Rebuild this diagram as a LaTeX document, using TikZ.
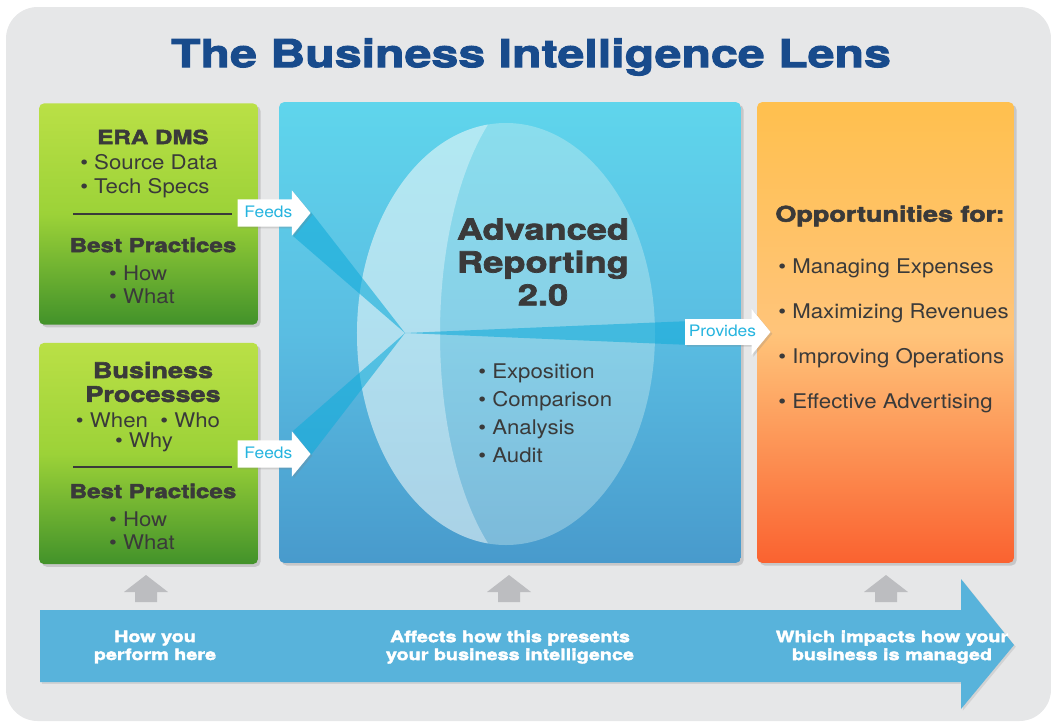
\documentclass[tikz,border=0pt]{standalone}
\usepackage{fontspec}
\setmainfont[FakeStretch=1.1]{TeX Gyre Heros}
\newfontfamily\widefont[FakeStretch=1.25, FakeBold=2.5]{TeX Gyre Heros}
\usetikzlibrary{shapes.arrows, shadows}
\definecolor{bggray}{HTML}{E6E7E8}
\definecolor{titleblue}{HTML}{184B8C}
\definecolor{textgray}{HTML}{3A3A3A}
\definecolor{feedcyan}{HTML}{25B4DF}
\definecolor{bandblue}{HTML}{58B3DB}
\definecolor{upgray}{HTML}{BCBDC0}
\definecolor{beamcyan}{HTML}{14ACDA}
\definecolor{lenslight}{HTML}{DDF3F2}

\begin{document}
\begin{tikzpicture}[
        x=0.02cm, y=-0.02cm,
        panel/.style={rectangle, rounded corners=3pt, inner sep=0pt,
                     drop shadow={opacity=0.3, shadow xshift=1.5pt, shadow yshift=-1.5pt}},
        greenbox/.style={panel, minimum width=4.38cm, minimum height=4.43cm,
                     top color={rgb,255:red,186;green,224;blue,70}, bottom color={rgb,255:red,66;green,146;blue,42},
                     middle color={rgb,255:red,156;green,210;blue,56}},
        reportbox/.style={panel, minimum width=9.24cm, minimum height=9.22cm,
                     top color={rgb,255:red,95;green,213;blue,236}, bottom color={rgb,255:red,72;green,154;blue,204},
                     middle color={rgb,255:red,90;green,189;blue,226}},
        oppbox/.style={panel, minimum width=5.14cm, minimum height=9.22cm,
                     top color={rgb,255:red,255;green,192;blue,78}, bottom color={rgb,255:red,250;green,98;blue,48},
                     middle color={rgb,255:red,255;green,196;blue,122}},
        heading/.style={font=\widefont\bfseries\fontsize{11}{13.6}\selectfont, text=textgray, align=center},
        bullets/.style={font=\fontsize{11.5}{13.6}\selectfont, text=textgray, align=left, inner sep=0pt},
        bandtext/.style={font=\widefont\bfseries\fontsize{9}{10.2}\selectfont, text=white, align=center},
        feedarrow/.style={single arrow, fill=white, minimum height=1.46cm,
                     single arrow head extend=0.18cm, single arrow tip angle=101,
                     inner xsep=2pt, inner ysep=3.6pt, text height=6.5pt, text depth=1.5pt,
                     font=\fontsize{9}{10}\selectfont, text=feedcyan,
                     drop shadow={opacity=0.25, shadow xshift=1pt, shadow yshift=-1pt}},
        sepline/.style={textgray, line width=0.8pt},
        beam/.style={fill=beamcyan, opacity=0.6}
    ]
        \useasboundingbox (0,0) rectangle (1051,724);

        % Background and title
        \fill[bggray, rounded corners=18pt] (6,7) rectangle (1051,721);
        \node[font=\widefont\bfseries\fontsize{22}{26}\selectfont, text=titleblue] (title) at (531,57) {The Business Intelligence Lens};

        % Panels
        \node[greenbox] (era) at (148.5,214) {};
        \node[greenbox] (bizproc) at (148.5,453.5) {};
        \node[reportbox] (report) at (510,332.5) {};
        \node[oppbox] (opps) at (885.5,332.5) {};

        % Lens
        \fill[lenslight, opacity=0.35] (506,334) ellipse [x radius=149, y radius=211];
        \fill[white, opacity=0.35] (488,124.5) arc[start angle=263.06, end angle=96.94, x radius=149, y radius=211]
            .. controls (424,440) and (424,228) .. (488,124.5) -- cycle;

        % Beams through the lens
        \coordinate (focus) at (405,333);
        \fill[beam] (focus) -- (311,212) -- (293,236) -- cycle;
        \fill[beam] (focus) -- (293,431) -- (311,455) -- cycle;
        \fill[beam] (focus) -- (691,321) -- (691,345) -- cycle;

        % Feed and provide arrows
        \node[feedarrow, anchor=tip] (feedera) at (311,213) {Feeds};
        \node[feedarrow, anchor=tip] (feedbiz) at (311,454) {Feeds};
        \node[feedarrow, anchor=tip, minimum height=1.6cm, single arrow head extend=0.2cm, inner ysep=3.1pt] (provides) at (771,332) {Provides};

        % ERA DMS panel
        \node[heading] (eratitle) at (153,137) {ERA DMS};
        \node[bullets] (erasrc) at (149,176) {\textbullet\ Source Data\\\textbullet\ Tech Specs};
        \draw[sepline] (73,214) -- (232,214);
        \node[heading] (erabest) at (153,245) {Best Practices};
        \node[bullets, font=\fontsize{11.5}{13}\selectfont] (erahow) at (142,285) {\textbullet\ How\\\textbullet\ What};

        % Business processes panel
        \node[heading, font=\widefont\bfseries\fontsize{12.3}{13.6}\selectfont] (biztitle) at (153,382) {Business\\Processes};
        \node[bullets] (bizwhen) at (148,420) {\textbullet\ When\ \ \textbullet\ Who};
        \node[bullets] (bizwhy) at (144,442) {\textbullet\ Why};
        \draw[sepline] (73,467) -- (232,467);
        \node[heading] (bizbest) at (153,491) {Best Practices};
        \node[bullets, font=\fontsize{11.5}{13}\selectfont] (bizhow) at (142,531) {\textbullet\ How\\\textbullet\ What};

        % Advanced reporting panel
        \node[heading, font=\widefont\bfseries\fontsize{16.5}{18.7}\selectfont] (advtitle) at (543,262) {Advanced\\Reporting\\2.0};
        \node[bullets, anchor=west, font=\fontsize{11.5}{15.9}\selectfont] (advlist) at (478,413)
            {\textbullet\ Exposition\\\textbullet\ Comparison\\\textbullet\ Analysis\\\textbullet\ Audit};

        % Opportunities panel
        \node[heading, font=\widefont\bfseries\fontsize{12.3}{14}\selectfont] (opptitle) at (890,216) {Opportunities for:};
        \node[bullets, anchor=west, font=\fontsize{11.5}{25.5}\selectfont] (opplist) at (778,336)
            {\textbullet\ Managing Expenses\\\textbullet\ Maximizing Revenues\\\textbullet\ Improving Operations\\\textbullet\ Effective Advertising};

        % Up arrows and bottom band
        \foreach \x in {146,509,886}
            \fill[upgray] (\x-22,592) -- (\x,575) -- (\x+22,592) -- (\x+11,592) -- (\x+11,602) -- (\x-11,602) -- (\x-11,592) -- cycle;
        \fill[bandblue, drop shadow={opacity=0.2, shadow xshift=1pt, shadow yshift=-1pt}]
            (40,610) -- (961,610) -- (961,579) -- (1014,645) -- (961,709) -- (961,682) -- (40,682) -- cycle;
        \node[bandtext] (bandleft) at (155,647) {How you\\perform here};
        \node[bandtext] (bandmid) at (510,647) {Affects how this presents\\your business intelligence};
        \node[bandtext] (bandright) at (892,647) {Which impacts how your\\business is managed};
    \end{tikzpicture}
\end{document}
